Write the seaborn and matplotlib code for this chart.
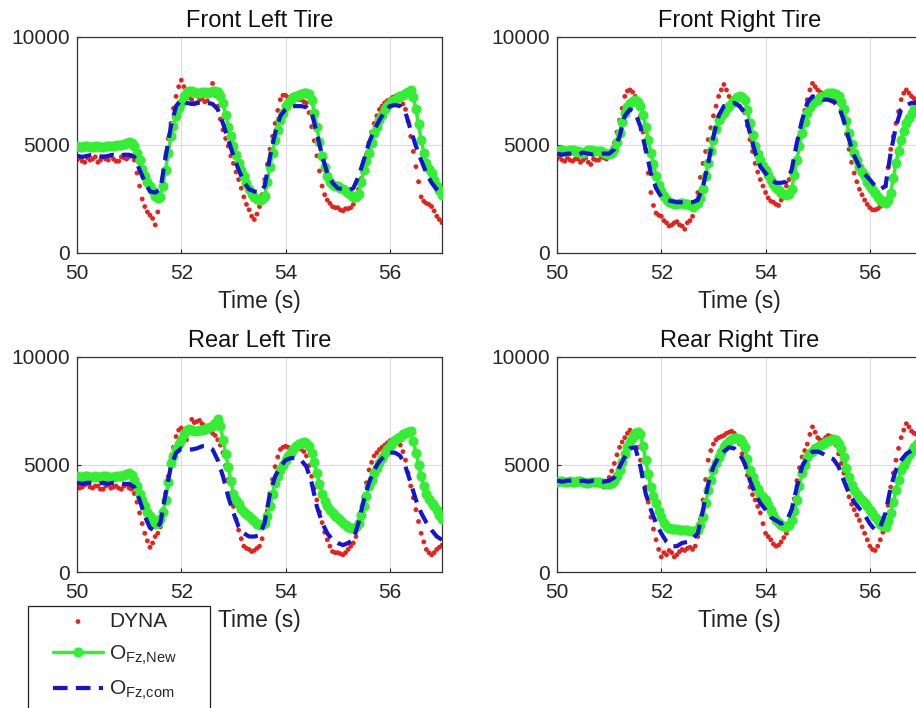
import numpy as np
import pandas as pd
import matplotlib.pyplot as plt
import matplotlib.patches as mpatches
import seaborn as sns

sns.set_style('ticks')
plt.rcParams['font.family'] = ['Liberation Sans', 'DejaVu Sans']
plt.rcParams['mathtext.fontset'] = 'custom'
plt.rcParams['mathtext.rm'] = 'Liberation Sans'
plt.rcParams['mathtext.it'] = 'Liberation Sans'

# sample times (s): measured series every 0.05 s, common model every 0.1 s
time_fine = np.linspace(50, 57, 141)
time = np.linspace(50, 57, 71)

titles = ['Front Left Tire', 'Front Right Tire', 'Rear Left Tire', 'Rear Right Tire']
series_labels = ['DYNA', r'O$_{\mathrm{Fz{,}New}}$', r'O$_{\mathrm{Fz{,}com}}$']

# ---- Front left ----
fl_dyna = [4300, 4400, 4250, 4200, 4400, 4300, 4350, 4450, 4200, 4300,
           4450, 4350, 4300, 4500, 4350, 4250, 4250, 4450, 4400, 4350,
           4450, 4500, 4300, 3700, 3100, 2500, 2150, 1900, 1750, 1600,
           1300, 1900, 2450, 3500, 4450, 5300, 6000, 6700, 7250, 7700,
           8000, 7700, 7300, 7200, 7100, 6900, 6950, 7100, 7150, 7000,
           7050, 7300, 7850, 7300, 6800, 6200, 5700, 5300, 4950, 4500,
           4150, 3750, 3400, 3000, 2600, 2250, 2000, 1700, 1550, 1800,
           2150, 2700, 3400, 4100, 4800, 5400, 6000, 6600, 7100, 7300,
           7300, 7200, 7150, 7300, 7250, 7100, 7100, 7000, 6950, 6500,
           5850, 5200, 4500, 3800, 3100, 2700, 2450, 2300, 2150, 2100,
           2100, 2000, 1950, 2050, 2050, 2100, 2250, 2550, 2950, 3450,
           4000, 4550, 5100, 5600, 6000, 6350, 6650, 6800, 6950, 7050,
           7100, 7200, 7250, 7200, 7100, 6900, 6650, 6100, 5400, 4700,
           4000, 3300, 2600, 2400, 2300, 2250, 2150, 1950, 1700, 1550, 1400]
fl_new = [4950, 4900, 4900, 4950, 4950, 4900, 4900, 4950, 4950, 4900,
          4900, 4950, 4950, 4950, 4950, 5000, 5000, 5000, 5050, 5100,
          5150, 5100, 4950, 4650, 4300, 3900, 3550, 3300, 3100, 2850,
          2650, 2550, 2600, 3100, 3850, 4650, 5400, 5900, 6350, 6700,
          6950, 7250, 7450, 7500, 7500, 7450, 7400, 7400, 7450, 7450,
          7400, 7450, 7500, 7500, 7450, 7250, 6950, 6400, 5850, 5400,
          4950, 4550, 4150, 3850, 3550, 3250, 2950, 2750, 2600, 2500,
          2450, 2500, 2650, 3300, 4000, 4650, 5250, 5700, 6150, 6500,
          6800, 6950, 7100, 7200, 7250, 7300, 7350, 7400, 7400, 7350,
          7100, 6500, 5850, 5150, 4500, 4000, 3550, 3300, 3150, 3100,
          3100, 3000, 2950, 2850, 2800, 2700, 2600, 2600, 2750, 3300,
          3850, 4250, 4650, 5100, 5550, 5850, 6150, 6400, 6650, 6800,
          6950, 7050, 7100, 7200, 7250, 7300, 7400, 7450, 7550, 7200,
          6650, 5950, 5250, 4650, 4150, 3900, 3700, 3400, 3100, 2900, 2700]
fl_com = [4500, 4450, 4500, 4550, 4500, 4450, 4500, 4550, 4500, 4550,
          4550, 4450, 3850, 3300, 2850, 2800, 2950, 4450, 5850, 6800,
          7100, 6950, 6900, 6950, 6950, 6950, 6900, 6650, 6000, 5250,
          4500, 3850, 3300, 2950, 2850, 2800, 3100, 4450, 5550, 6350,
          6650, 6800, 6800, 6800, 6750, 6500, 5550, 4500, 3700, 3250,
          3000, 2950, 2900, 3000, 3550, 4300, 5100, 5700, 6150, 6550,
          6800, 6850, 6800, 6500, 5700, 4950, 4300, 3700, 3250, 2950, 2700]

# ---- Front right ----
fr_dyna = [4350, 4450, 4300, 4250, 4400, 4300, 4250, 4350, 4350, 4200,
           4300, 4400, 4200, 4100, 4350, 4300, 4300, 4450, 4400, 4350,
           4500, 4750, 5100, 5600, 6150, 6700, 7250, 7500, 7550, 7450,
           7250, 6900, 6350, 5600, 4800, 3700, 2800, 2200, 1850, 1750,
           1700, 1500, 1400, 1250, 1300, 1400, 1450, 1300, 1250, 1100,
           1400, 1500, 1700, 2200, 2800, 3500, 4150, 4700, 5250, 5800,
           6350, 6800, 7250, 7550, 7800, 7550, 7250, 7150, 7100, 6950,
           6800, 6650, 6500, 5900, 5250, 4700, 4150, 3750, 3400, 3100,
           2800, 2550, 2400, 2350, 2250, 2200, 2450, 2750, 3100, 3400,
           3700, 4200, 4800, 5400, 6000, 6600, 7100, 7550, 7850, 7700,
           7550, 7450, 7400, 7300, 7250, 7200, 7150, 7050, 6950, 6600,
           6150, 5500, 4800, 4200, 3700, 3300, 2950, 2700, 2450, 2250,
           2100, 2000, 2000, 2050, 2150, 2500, 3100, 3950, 4800, 5400,
           6000, 6550, 7100, 7400, 7550, 7400, 7250, 7150, 7100, 7050, 7000]
fr_new = [4700, 4750, 4750, 4700, 4700, 4750, 4750, 4700, 4700, 4650,
          4650, 4700, 4750, 4750, 4700, 4700, 4700, 4700, 4650, 4600,
          4600, 4650, 4800, 5150, 5550, 6050, 6500, 6750, 6950, 7050,
          7100, 7000, 6800, 6400, 5850, 5250, 4650, 4100, 3550, 3150,
          2850, 2650, 2450, 2350, 2300, 2250, 2250, 2300, 2300, 2250,
          2250, 2200, 2150, 2200, 2300, 2550, 2950, 3550, 4150, 4700,
          5250, 5750, 6150, 6350, 6500, 6650, 6800, 6950, 7100, 7200,
          7250, 7200, 7100, 6600, 6000, 5450, 4950, 4600, 4300, 4050,
          3850, 3600, 3400, 3200, 3000, 2900, 2800, 2750, 2700, 2750,
          2950, 3600, 4300, 4950, 5550, 6050, 6500, 6750, 6950, 7050,
          7100, 7200, 7250, 7300, 7400, 7400, 7400, 7350, 7250, 7000,
          6650, 6100, 5550, 5050, 4650, 4300, 4000, 3750, 3550, 3300,
          3100, 2950, 2800, 2600, 2450, 2350, 2300, 2450, 2800, 3450,
          4150, 4700, 5250, 5650, 6000, 6250, 6500, 6650, 6800, 6900, 6950]
fr_com = [4600, 4550, 4600, 4600, 4550, 4650, 4600, 4550, 4600, 4600,
          4600, 4800, 5400, 6350, 6650, 6500, 5850, 4800, 3700, 3000,
          2600, 2450, 2400, 2350, 2350, 2350, 2350, 2450, 3100, 4150,
          5400, 6350, 6800, 6850, 6950, 6800, 6500, 5550, 4650, 4000,
          3700, 3400, 3250, 3250, 3300, 3850, 5100, 6150, 6950, 7250,
          7200, 7100, 7100, 7000, 6800, 6150, 5250, 4500, 4000, 3650,
          3400, 3100, 2950, 3100, 4650, 5850, 6650, 6850, 6950, 6950, 6950]

# ---- Rear left ----
rl_dyna = [4000, 3900, 3950, 4050, 4100, 3950, 3900, 4000, 4000, 3850,
           3850, 4000, 4050, 3900, 3950, 4000, 3900, 3850, 4000, 4050,
           3900, 3850, 3650, 3250, 2750, 2250, 1800, 1450, 1150, 1350,
           1650, 1800, 2100, 2900, 3650, 4450, 5200, 5800, 6300, 6600,
           6700, 6500, 6150, 6700, 7100, 6950, 7000, 7050, 6900, 6800,
           6700, 6600, 6450, 6350, 6150, 5900, 5550, 4950, 4300, 3650,
           3050, 2450, 1950, 1550, 1200, 1100, 1050, 950, 1000, 1100,
           1200, 1550, 2100, 2850, 3650, 4300, 4900, 5350, 5700, 5800,
           5850, 5800, 5750, 5800, 5850, 5800, 5700, 5600, 5400, 4950,
           4450, 3900, 3350, 2800, 2300, 1850, 1500, 1200, 950, 900,
           900, 850, 800, 900, 1050, 1200, 1350, 1650, 2100, 2800,
           3500, 4150, 4750, 5100, 5400, 5550, 5700, 5800, 5900, 6000,
           6100, 6150, 6150, 6050, 5900, 5600, 5200, 4600, 4000, 3450,
           2900, 2350, 1800, 1400, 1050, 900, 800, 900, 1050, 1150, 1250]
rl_new = [4450, 4400, 4400, 4450, 4450, 4400, 4400, 4450, 4400, 4400,
          4450, 4450, 4400, 4400, 4400, 4450, 4450, 4450, 4500, 4550,
          4600, 4500, 4300, 4000, 3650, 3350, 3050, 2800, 2600, 2400,
          2250, 2300, 2450, 2800, 3350, 4200, 5050, 5400, 5700, 5950,
          6150, 6400, 6600, 6650, 6600, 6550, 6550, 6600, 6600, 6650,
          6700, 6750, 6800, 6950, 7100, 6800, 6150, 5500, 4900, 4250,
          3650, 3350, 3150, 2950, 2800, 2700, 2600, 2450, 2350, 2250,
          2200, 2200, 2300, 2600, 3050, 3650, 4150, 4450, 4750, 5000,
          5200, 5400, 5550, 5700, 5850, 5950, 6000, 6050, 6000, 5850,
          5550, 5100, 4600, 4100, 3650, 3300, 3050, 2900, 2750, 2600,
          2500, 2400, 2300, 2200, 2100, 2050, 2050, 2100, 2300, 2650,
          3050, 3550, 4000, 4300, 4600, 4850, 5050, 5300, 5550, 5700,
          5850, 6000, 6150, 6250, 6300, 6400, 6450, 6500, 6550, 6100,
          5550, 5000, 4450, 4000, 3650, 3400, 3200, 3050, 2900, 2650, 2450]
rl_com = [4150, 4100, 4150, 4150, 4100, 4150, 4100, 4150, 4150, 4100,
          4100, 3950, 3350, 2600, 2050, 1900, 2300, 3650, 4900, 5550,
          5750, 5700, 5700, 5750, 5850, 5850, 5700, 5200, 4450, 3500,
          2750, 2100, 1800, 1650, 1650, 1700, 2300, 3650, 4450, 4900,
          5200, 5300, 5300, 5200, 4900, 4150, 3050, 2300, 1800, 1500,
          1350, 1250, 1350, 1500, 2300, 3350, 4150, 4750, 5150, 5400,
          5550, 5550, 5400, 4900, 4150, 3350, 2750, 2300, 1950, 1650, 1500]

# ---- Rear right ----
rr_dyna = [4200, 4150, 4250, 4200, 4150, 4250, 4200, 4100, 4300, 4250,
           4150, 4200, 4250, 4150, 4200, 4250, 4100, 4050, 3950, 4150,
           4400, 4700, 5050, 5450, 5800, 6050, 6250, 6450, 6600, 6450,
           6250, 5800, 5200, 4600, 3950, 3250, 2550, 2000, 1500, 1050,
           700, 900, 800, 1000, 900, 700, 800, 950, 1050, 1000,
           1100, 1150, 1050, 1200, 1650, 2450, 3350, 4300, 5200, 5650,
           5950, 6150, 6250, 6300, 6350, 6450, 6500, 6550, 6450, 6250,
           5950, 5500, 5050, 4500, 3950, 3600, 3350, 3050, 2750, 2250,
           1800, 1650, 1500, 1300, 1200, 1250, 1400, 1600, 1800, 2150,
           2550, 3400, 4250, 4850, 5350, 5650, 5950, 6400, 6750, 6500,
           6250, 6150, 6100, 6250, 6350, 6300, 6250, 5900, 5500, 5050,
           4600, 4050, 3500, 3150, 2900, 2650, 2400, 2100, 1800, 1500,
           1200, 1050, 1000, 1200, 1500, 1850, 2250, 3100, 3950, 4600,
           5200, 5750, 6250, 6600, 6900, 6750, 6550, 6450, 6400, 6400, 6400]
rr_new = [4200, 4250, 4250, 4200, 4200, 4250, 4200, 4200, 4250, 4250,
          4200, 4150, 4150, 4200, 4200, 4200, 4200, 4150, 4150, 4100,
          4100, 4150, 4250, 4450, 4750, 5100, 5500, 5800, 6100, 6300,
          6450, 6500, 6400, 5850, 5200, 4550, 3950, 3550, 3200, 2850,
          2550, 2300, 2100, 2050, 2000, 2000, 2000, 1950, 1950, 1950,
          1950, 1900, 1900, 1900, 1950, 2200, 2550, 3200, 3800, 4300,
          4750, 5050, 5350, 5600, 5800, 5950, 6100, 6200, 6250, 6250,
          6200, 6050, 5800, 5250, 4750, 4400, 4100, 3850, 3650, 3500,
          3350, 3100, 2900, 2650, 2400, 2300, 2200, 2150, 2100, 2200,
          2400, 2850, 3350, 4000, 4600, 5000, 5350, 5550, 5650, 5750,
          5800, 5900, 5950, 6050, 6100, 6150, 6200, 6150, 5950, 5700,
          5350, 4850, 4400, 4050, 3800, 3650, 3500, 3350, 3200, 3050,
          2900, 2750, 2550, 2400, 2250, 2150, 2100, 2350, 2750, 3250,
          3800, 4300, 4750, 5000, 5200, 5450, 5650, 5800, 5950, 6050, 6100]
rr_com = [4250, 4200, 4250, 4250, 4200, 4250, 4200, 4250, 4250, 4200,
          4250, 4400, 4900, 5350, 5750, 5800, 4900, 3650, 2900, 2250,
          1800, 1400, 1200, 1200, 1350, 1400, 1550, 1800, 2900, 4100,
          4900, 5350, 5600, 5800, 5750, 5500, 5050, 4250, 3650, 3200,
          2900, 2550, 2400, 2250, 2350, 2900, 3950, 4900, 5350, 5600,
          5600, 5500, 5350, 5250, 4900, 4250, 3650, 3250, 2950, 2650,
          2250, 1950, 2100, 2750, 3950, 4750, 5200, 5500, 5650, 5750, 5750]

panels = [(fl_dyna, fl_new, fl_com), (fr_dyna, fr_new, fr_com),
          (rl_dyna, rl_new, rl_com), (rr_dyna, rr_new, rr_com)]

# axes boxes in pixels: left, top, width, height (figure 916x708)
W, H = 916, 708
boxes = [(77, 37, 365, 216), (557, 37, 365, 216),
         (77, 357, 365, 215), (557, 357, 365, 215)]

red = '#e8211d'
green = '#33ee33'
blue = '#1414d2'

fig = plt.figure(figsize=(W / 100, H / 100), dpi=100)
axes = []
for (dyna, new, com), title, (l, t, w, h) in zip(panels, titles, boxes):
    ax = fig.add_axes([l / W, (H - t - h) / H, w / W, h / H])
    fine = pd.DataFrame({'Time': time_fine, 'DYNA': dyna, 'New': new})
    coarse = pd.DataFrame({'Time': time, 'Com': com})

    sns.scatterplot(data=fine, x='Time', y='DYNA', ax=ax, color=red, s=12,
                    edgecolor='none', label=series_labels[0], zorder=2)
    sns.lineplot(data=fine, x='Time', y='New', ax=ax, color=green, lw=2.5,
                 marker='o', markersize=6.5, markeredgecolor=green,
                 label=series_labels[1], zorder=3)
    sns.lineplot(data=coarse, x='Time', y='Com', ax=ax, color=blue, lw=3,
                 linestyle='--', label=series_labels[2], zorder=4)
    ax.lines[-1].set_dashes((3.5, 2.0))

    ax.set_xlim(50, 57)
    ax.set_ylim(0, 10000)
    ax.set_xticks([50, 52, 54, 56])
    ax.set_yticks([0, 5000, 10000])
    ax.grid(True, color='#dddddd', lw=0.8)
    ax.set_axisbelow(True)
    ax.tick_params(direction='in', length=3, width=0.8, labelsize=15,
                   colors='#262626', pad=5)
    ax.tick_params(axis='x', pad=8)
    for sp in ax.spines.values():
        sp.set_color('#333333')
        sp.set_linewidth(0.9)
    ax.set_title(title, fontsize=17, pad=7, color='#111111')
    ax.set_xlabel('Time (s)', fontsize=16.5, labelpad=5, color='#222222')
    ax.set_ylabel('')
    ax.get_legend().remove()
    axes.append(ax)

# legend: entries without frame, box drawn separately (runs off the bottom)
handles, labels = axes[0].get_legend_handles_labels()
leg = fig.legend(handles, labels, loc='upper left',
                 bbox_to_anchor=(53 / W, 1 - 612 / H), fontsize=15,
                 frameon=False, handlelength=2.4, handletextpad=0.3,
                 borderpad=0, labelspacing=0.6, scatterpoints=1,
                 borderaxespad=0)
box = mpatches.Rectangle((28 / W, -0.05), 182 / W, 102 / H + 0.05,
                         transform=fig.transFigure, fill=False,
                         edgecolor='#222222', lw=0.9)
fig.add_artist(box)

fig.savefig('out.png', dpi=100)
